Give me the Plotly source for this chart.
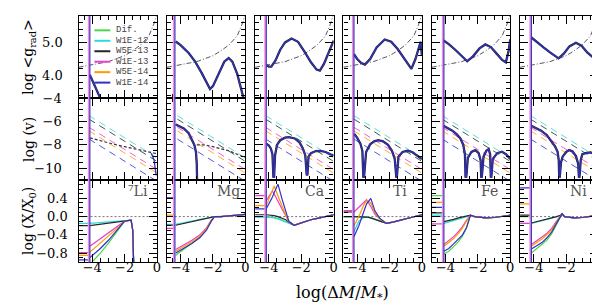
import plotly.graph_objects as go

# ---------------- data ----------------
ELEMENTS = ["\u2077Li", "Mg", "Ca", "Ti", "Fe", "Ni"]
MODELS = ["Dif.", "W1E-12", "W5E-13", "W1E-13", "W5E-14", "W1E-14"]
COLORS = ["#4cd64c", "#2fd9d9", "#262626", "#e83fc8", "#ff9a00", "#3030c8"]

X_RANGE = [-4.85, 0.0]
X_TICKS = [-4, -2, 0]
X_TICKTEXT = ["\u22124", "\u22122", "0"]
GRAD_RANGE = [3.32, 5.8]
GRAD_TICKS = [4.0, 5.0]
GRAD_TICKTEXT = ["4.0", "5.0"]
V_RANGE = [-11.0, -4.0]
V_TICKS = [-4, -6, -8, -10]
V_TICKTEXT = ["\u22124", "\u22126", "\u22128", "\u221210"]
AB_RANGE = [-1.0, 0.8]
AB_TICKS = [0.4, 0.0, -0.4, -0.8]
AB_TICKTEXT = ["0.4", "0.0", "\u22120.4", "\u22120.8"]

# bottom of the surface convection zone (vertical lines)
CZ_EDGE = [-4.15, -4.35, -4.16, -4.2, -4.1, -4.15]

# gravity (dash-dot curve, top row)
GRAV_X = [-4.85, -4.0, -3.0, -2.0, -1.5, -1.0, -0.5, -0.2, 0.0]
GRAV_Y = [4.25, 4.32, 4.42, 4.6, 4.75, 4.93, 5.2, 5.55, 5.85]

# radiative accelerations (top row)
LI_GRAD_X = [-4.15, -3.9, -3.68, -3.4]
LI_GRAD_Y = [4.02, 3.77, 3.52, 3.2]
MG_GRAD_X = [-4.3, -4.0, -3.5, -3.1, -2.7, -2.4, -2.18, -2.0, -1.6, -1.3, -1.03, -0.8, -0.5, -0.3, -0.1]
MG_GRAD_Y = [5.03, 4.92, 4.68, 4.42, 4.08, 3.78, 3.59, 3.68, 4.12, 4.42, 4.53, 4.42, 4.05, 3.7, 3.3]
CA_GRAD_X = [-4.16, -4.0, -3.85, -3.6, -3.3, -3.0, -2.6, -2.2, -1.8, -1.4, -1.05, -0.85, -0.6, -0.3, 0.0]
CA_GRAD_Y = [4.32, 4.27, 4.27, 4.45, 4.78, 5.0, 5.12, 5.02, 4.72, 4.4, 4.18, 4.15, 4.35, 4.72, 5.05]
TI_GRAD_X = [-4.2, -4.0, -3.75, -3.52, -3.2, -2.8, -2.3, -1.9, -1.5, -1.1, -0.65, -0.4, -0.08, 0.0]
TI_GRAD_Y = [4.65, 4.5, 4.38, 4.33, 4.5, 4.85, 5.09, 5.02, 4.8, 4.5, 4.2, 4.5, 5.02, 4.6]
FE_GRAD_X = [-4.12, -3.8, -3.4, -3.0, -2.66, -2.3, -1.9, -1.54, -1.2, -0.8, -0.5, -0.27, -0.1, 0.0]
FE_GRAD_Y = [5.06, 4.95, 4.78, 4.58, 4.43, 4.58, 4.82, 4.94, 4.86, 4.64, 4.47, 4.4, 4.75, 5.09]
NI_GRAD_X = [-4.15, -3.8, -3.4, -3.0, -2.47, -2.15, -1.8, -1.4, -1.05, -0.7, -0.28, -0.1, -0.03, 0.0]
NI_GRAD_Y = [5.15, 5.0, 4.85, 4.7, 4.52, 4.66, 4.88, 4.99, 4.9, 4.7, 4.52, 4.85, 5.04, 4.8]

# wind velocities (dashed, middle row); Dif. has no wind
WIND_X = [-4.2, 0.0]
WIND_Y = [None, [-5.5, -9.1], [-5.8, -9.4], [-6.5, -10.1], [-6.8, -10.4], [-7.5, -11.1]]

# diffusion velocities (middle row)
LI_V_X = [-4.15, -3.5, -3.0, -2.5, -2.0, -1.5, -1.0, -0.5, -0.2, 0.0]
LI_V_Y = [-7.4, -7.65, -7.85, -8.0, -8.15, -8.3, -8.45, -8.6, -8.7, -8.75]
LI_VT_X = [-0.35, -0.18, -0.05]
LI_VT_Y = [-8.7, -9.3, -10.6]
MG_V_X = [-4.3, -4.13, -3.8, -3.5, -3.3, -3.15, -3.05, -3.0, -2.98]
MG_V_Y = [-6.25, -6.36, -6.6, -7.0, -7.5, -8.0, -8.6, -9.6, -11.0]
MG_VD_X = [-3.0, -2.5, -2.0, -1.5, -1.0, -0.5, 0.0]
MG_VD_Y = [-8.0, -8.0, -8.15, -8.3, -8.5, -8.8, -9.1]
CA_V_X = [-4.16, -4.0, -3.88, -3.78, -3.72, None, -3.68, -3.62, -3.5, -3.3, -3.0, -2.76, -2.4, -2.1, -1.9, -1.75, -1.66,
          None, -1.62, -1.55, -1.4, -1.1, -0.8, -0.5, -0.2, 0.0]
CA_V_Y = [-7.9, -8.05, -8.3, -8.8, -10.8, None, -10.8, -8.9, -8.0, -7.6, -7.38, -7.33, -7.45, -7.8, -8.3, -8.9, -10.6,
          None, -10.6, -9.0, -8.7, -8.52, -8.5, -8.6, -8.8, -8.9]
TI_V_X = [-4.18, -4.0, -3.8, -3.68, -3.62, None, -3.58, -3.45, -3.2, -2.95, -2.7, -2.4, -2.1, -1.85, -1.68, -1.58,
          None, -1.55, -1.45, -1.2, -0.9, -0.6, -0.3, 0.0]
TI_V_Y = [-7.06, -7.4, -7.9, -8.5, -10.8, None, -10.8, -8.6, -7.95, -7.7, -7.6, -7.7, -8.0, -8.5, -9.2, -10.8,
          None, -10.8, -9.0, -8.6, -8.5, -8.6, -8.9, -9.2]
FE_V_X = [-4.13, -3.85, -3.58, -3.3, -3.07, -2.9, -2.8, -2.76, None, -2.72, -2.62, -2.4, -2.15, -1.95, -1.83, -1.79,
          None, -1.76, -1.65, -1.48, -1.33, -1.24, -1.2, None, -1.17, -1.08, -0.8, -0.51, -0.25, 0.0]
FE_V_Y = [-6.36, -6.55, -6.78, -7.1, -7.47, -8.0, -8.8, -10.8, None, -10.8, -9.1, -8.6, -8.44, -8.7, -9.3, -10.8,
          None, -10.8, -9.0, -8.5, -8.36, -8.8, -10.8, None, -10.8, -9.2, -8.7, -8.58, -8.8, -9.2]
NI_V_X = [-4.16, -3.85, -3.55, -3.2, -2.94, -2.7, -2.53, -2.46, -2.43, None, -2.4, -2.32, -2.22, -2.0, -1.81, -1.6,
          -1.4, -1.26, -1.21, None, -1.18, -1.1, -1.0, -0.75, -0.48, -0.2, 0.0]
NI_V_Y = [-6.36, -6.55, -6.78, -7.15, -7.61, -8.1, -8.58, -9.3, -10.8, None, -10.8, -9.5, -9.0, -8.6, -8.44, -8.55,
          -8.95, -9.6, -10.8, None, -10.8, -9.3, -8.78, -8.68, -8.64, -8.8, -9.06]

# abundances (bottom row); one row per model in MODELS order
LI_CZ = [-1.1, -0.15, -0.2, -0.79, -0.85, -0.95]
LI_AB_X = [-4.15, -3.5, -3.0, -2.5, -2.0, -1.6, -1.5, -1.42]
LI_AB = [
    [-1.05, -0.8, -0.58, -0.35, -0.1, -0.08, -0.3, -1.3],
    [-0.15, -0.13, -0.12, -0.1, -0.09, -0.08, -0.3, -1.3],
    [-0.2, -0.17, -0.14, -0.11, -0.09, -0.08, -0.3, -1.3],
    [-0.65, -0.48, -0.35, -0.22, -0.1, -0.08, -0.3, -1.3],
    [-0.78, -0.58, -0.43, -0.27, -0.1, -0.08, -0.3, -1.3],
    [-0.9, -0.7, -0.52, -0.32, -0.1, -0.08, -0.3, -1.3],
]
MG_CZ = [0.41, -0.17, -0.19, -0.26, 0.03, 0.41]
MG_AB_X = [-4.3, -3.8, -3.3, -2.8, -2.4, -2.1, -1.9, -1.5, -1.0, -0.5, 0.0]
MG_AB = [
    [-0.85, -0.72, -0.6, -0.45, -0.25, -0.08, 0.0, 0.0, 0.01, 0.03, 0.05],
    [-0.17, -0.14, -0.1, -0.06, -0.03, 0.0, 0.0, 0.0, 0.01, 0.03, 0.05],
    [-0.19, -0.15, -0.11, -0.07, -0.04, -0.01, 0.0, 0.0, 0.01, 0.03, 0.05],
    [-0.72, -0.62, -0.52, -0.4, -0.25, -0.08, 0.0, 0.0, 0.01, 0.03, 0.05],
    [-0.76, -0.66, -0.55, -0.43, -0.27, -0.09, 0.0, 0.0, 0.01, 0.03, 0.05],
    [-0.8, -0.7, -0.59, -0.46, -0.3, -0.1, 0.0, 0.0, 0.01, 0.03, 0.05],
]
CA_CZ = [0.0, -0.01, 0.04, 0.46, 0.24, 0.17]
CA_AB_X = [-4.16, -3.9, -3.78, -3.68, -3.44, -3.2, -2.96, -2.76, -2.44, -2.2, -1.8, -1.4, -1.0, -0.5, 0.0]
CA_AB = [
    [0.0, -0.01, -0.01, -0.02, -0.04, -0.07, -0.1, -0.14, -0.19, -0.16, -0.11, -0.07, -0.04, 0.0, 0.04],
    [-0.01, -0.02, -0.02, -0.03, -0.05, -0.08, -0.11, -0.15, -0.19, -0.16, -0.11, -0.07, -0.04, 0.0, 0.04],
    [0.04, 0.03, 0.03, 0.02, 0.0, -0.03, -0.07, -0.12, -0.19, -0.16, -0.11, -0.07, -0.04, 0.0, 0.04],
    [0.35, 0.5, 0.56, 0.5, 0.32, 0.17, 0.02, -0.1, -0.19, -0.16, -0.11, -0.07, -0.04, 0.0, 0.04],
    [0.24, 0.45, 0.58, 0.67, 0.45, 0.22, 0.03, -0.11, -0.19, -0.16, -0.11, -0.07, -0.04, 0.0, 0.04],
    [0.17, 0.33, 0.43, 0.52, 0.71, 0.4, 0.12, -0.11, -0.19, -0.16, -0.11, -0.07, -0.04, 0.0, 0.04],
]
TI_CZ = [0.0, 0.0, 0.0, 0.13, 0.1, 0.1]
TI_AB_X = [-4.2, -3.9, -3.6, -3.42, -3.16, -2.9, -2.6, -2.19, -1.8, -1.2, -0.6, 0.0]
TI_AB = [
    [0.0, 0.0, 0.0, -0.01, -0.03, -0.06, -0.1, -0.15, -0.12, -0.07, -0.02, 0.04],
    [-0.33, -0.1, -0.02, -0.01, -0.03, -0.06, -0.1, -0.15, -0.12, -0.07, -0.02, 0.04],
    [0.0, 0.0, 0.0, -0.01, -0.03, -0.06, -0.1, -0.15, -0.12, -0.07, -0.02, 0.04],
    [0.1, 0.2, 0.32, 0.37, 0.22, 0.05, -0.05, -0.15, -0.12, -0.07, -0.02, 0.04],
    [-0.2, 0.0, 0.25, 0.35, 0.3, 0.08, -0.05, -0.15, -0.12, -0.07, -0.02, 0.04],
    [-0.44, -0.2, 0.1, 0.28, 0.4, 0.12, -0.04, -0.15, -0.12, -0.07, -0.02, 0.04],
]
FE_CZ = [0.46, 0.03, 0.08, -0.16, 0.31, 0.2]
FE_AB_X = [-4.1, -3.8, -3.5, -3.2, -2.95, -2.7, -2.46, -2.2, -1.8, -1.5, -1.0, -0.5, 0.0]
FE_AB = [
    [-0.82, -0.76, -0.66, -0.55, -0.43, -0.25, 0.03, 0.0, -0.02, -0.03, -0.02, 0.0, 0.03],
    [-0.15, -0.12, -0.09, -0.06, -0.03, 0.0, 0.02, 0.0, -0.02, -0.03, -0.02, 0.0, 0.03],
    [-0.11, -0.09, -0.06, -0.03, -0.01, 0.01, 0.03, 0.0, -0.02, -0.03, -0.02, 0.0, 0.03],
    [-0.61, -0.53, -0.44, -0.33, -0.22, -0.08, 0.02, 0.0, -0.02, -0.03, -0.02, 0.0, 0.03],
    [-0.65, -0.57, -0.48, -0.37, -0.25, -0.1, 0.02, 0.0, -0.02, -0.03, -0.02, 0.0, 0.03],
    [-0.76, -0.7, -0.6, -0.5, -0.4, -0.24, 0.03, 0.0, -0.02, -0.03, -0.02, 0.0, 0.03],
]
NI_CZ = [0.0, -0.15, 0.03, -0.15, 0.28, 0.63]
NI_AB_X = [-4.15, -3.8, -3.5, -3.2, -2.9, -2.6, -2.35, -2.25, -2.1, -1.5, -1.0, -0.5, 0.0]
NI_AB = [
    [-0.8, -0.7, -0.62, -0.52, -0.38, -0.18, 0.02, 0.06, 0.0, -0.03, -0.02, 0.0, 0.03],
    [-0.15, -0.12, -0.1, -0.07, -0.04, -0.01, 0.03, 0.06, 0.0, -0.03, -0.02, 0.0, 0.03],
    [-0.14, -0.11, -0.09, -0.06, -0.03, 0.0, 0.03, 0.06, 0.0, -0.03, -0.02, 0.0, 0.03],
    [-0.61, -0.53, -0.45, -0.37, -0.26, -0.1, 0.03, 0.06, 0.0, -0.03, -0.02, 0.0, 0.03],
    [-0.65, -0.57, -0.49, -0.4, -0.29, -0.12, 0.03, 0.06, 0.0, -0.03, -0.02, 0.0, 0.03],
    [-0.71, -0.64, -0.57, -0.47, -0.34, -0.15, 0.02, 0.06, 0.0, -0.03, -0.02, 0.0, 0.03],
]

GRAD_DATA = [(LI_GRAD_X, LI_GRAD_Y), (MG_GRAD_X, MG_GRAD_Y), (CA_GRAD_X, CA_GRAD_Y),
             (TI_GRAD_X, TI_GRAD_Y), (FE_GRAD_X, FE_GRAD_Y), (NI_GRAD_X, NI_GRAD_Y)]
V_DATA = [None, (MG_V_X, MG_V_Y), (CA_V_X, CA_V_Y), (TI_V_X, TI_V_Y), (FE_V_X, FE_V_Y), (NI_V_X, NI_V_Y)]
AB_DATA = [(LI_CZ, LI_AB_X, LI_AB), (MG_CZ, MG_AB_X, MG_AB), (CA_CZ, CA_AB_X, CA_AB),
           (TI_CZ, TI_AB_X, TI_AB), (FE_CZ, FE_AB_X, FE_AB), (NI_CZ, NI_AB_X, NI_AB)]

# ---------------- layout geometry (pixels) ----------------
W, H = 600, 304
LEFT0, STEP, PW = 71.0, 88.9, 79.0
ROW_TOP, PH = [1.0, 85.0, 169.0], 84.0
ROW_STANDOFF = [12, 13, 7]
TICKFONT = dict(family="DejaVu Serif", size=13, color="black")


def names(k):
    return ("x" if k == 1 else f"x{k}", "y" if k == 1 else f"y{k}")


fig = go.Figure()
layout = dict(width=W, height=H, margin=dict(l=0, r=0, t=0, b=0),
              paper_bgcolor="white", plot_bgcolor="white", showlegend=False)

row_cfg = [
    (GRAD_RANGE, GRAD_TICKS, GRAD_TICKTEXT, 0.2),
    (V_RANGE, V_TICKS, V_TICKTEXT, 0.5),
    (AB_RANGE, AB_TICKS, AB_TICKTEXT, 0.1),
]

shapes, annotations = [], []
for r in range(3):
    for c in range(6):
        k = r * 6 + c + 1
        xn, yn = names(k)
        x0 = (LEFT0 + STEP * c) / W
        x1 = (LEFT0 + STEP * c + PW) / W
        y1 = 1 - ROW_TOP[r] / H
        y0 = 1 - (ROW_TOP[r] + PH) / H
        yr, yt, ytt, ymin = row_cfg[r]
        common = dict(showgrid=False, zeroline=False, showline=True, linecolor="black", linewidth=1.3,
                      mirror="allticks", ticks="inside", ticklen=8, tickwidth=1.3, tickcolor="black",
                      tickfont=TICKFONT)
        xa = dict(common, domain=[x0, x1], anchor=yn, range=X_RANGE, tickmode="array",
                  tickvals=X_TICKS, ticktext=X_TICKTEXT, showticklabels=(r == 2),
                  minor=dict(tickmode="linear", tick0=0, dtick=0.5, ticklen=4, ticks="inside",
                             tickcolor="black", tickwidth=1.1))
        if r == 2:
            xa["ticklabelstandoff"] = -7
        ya = dict(common, domain=[y0, y1], anchor=xn, range=yr, tickmode="array",
                  tickvals=yt, ticktext=ytt, showticklabels=(c == 0),
                  minor=dict(tickmode="linear", tick0=0, dtick=ymin, ticklen=4, ticks="inside",
                             tickcolor="black", tickwidth=1.1))
        if c == 0:
            ya["ticklabelstandoff"] = ROW_STANDOFF[r]
        layout["xaxis" if k == 1 else f"xaxis{k}"] = xa
        layout["yaxis" if k == 1 else f"yaxis{k}"] = ya

        # vertical lines at the bottom of the convection zone
        edge = CZ_EDGE[c]
        shapes.append(dict(type="line", xref=xn, yref=f"{yn} domain", x0=edge - 0.07, x1=edge - 0.07,
                           y0=0, y1=1, line=dict(color="#f58ad8", width=1.8)))
        shapes.append(dict(type="line", xref=xn, yref=f"{yn} domain", x0=edge, x1=edge,
                           y0=0, y1=1, line=dict(color="#3a3ac4", width=1.2)))

        if r == 0:
            fig.add_trace(go.Scatter(x=GRAV_X, y=GRAV_Y, mode="lines", xaxis=xn, yaxis=yn,
                                     line=dict(color="#555566", width=1, dash="5px,2px,1px,2px")))
            gx, gy = GRAD_DATA[c]
            fig.add_trace(go.Scatter(x=gx, y=gy, mode="lines", xaxis=xn, yaxis=yn,
                                     line=dict(color=COLORS[2], width=2.3)))
            fig.add_trace(go.Scatter(x=gx, y=gy, mode="lines", xaxis=xn, yaxis=yn,
                                     line=dict(color=COLORS[5], width=1.3)))
        elif r == 1:
            for m in range(1, 6):
                fig.add_trace(go.Scatter(x=WIND_X, y=WIND_Y[m], mode="lines", xaxis=xn, yaxis=yn,
                                         line=dict(color=COLORS[m], width=1, dash="7px,5px"), opacity=0.8))
            if c == 0:
                fig.add_trace(go.Scatter(x=LI_V_X, y=LI_V_Y, mode="lines", xaxis=xn, yaxis=yn,
                                         line=dict(color="#333344", width=1.2, dash="3px,2px")))
                fig.add_trace(go.Scatter(x=LI_VT_X, y=LI_VT_Y, mode="lines", xaxis=xn, yaxis=yn,
                                         line=dict(color=COLORS[5], width=1.3)))
            else:
                if c == 1:
                    fig.add_trace(go.Scatter(x=MG_VD_X, y=MG_VD_Y, mode="lines", xaxis=xn, yaxis=yn,
                                             line=dict(color="#333344", width=1.2, dash="3px,2px")))
                vx, vy = V_DATA[c]
                fig.add_trace(go.Scatter(x=vx, y=vy, mode="lines", xaxis=xn, yaxis=yn, connectgaps=False,
                                         line=dict(color=COLORS[2], width=2.3)))
                fig.add_trace(go.Scatter(x=vx, y=vy, mode="lines", xaxis=xn, yaxis=yn, connectgaps=False,
                                         line=dict(color=COLORS[5], width=1.3)))
        else:
            fig.add_trace(go.Scatter(x=X_RANGE, y=[0, 0], mode="lines", xaxis=xn, yaxis=yn,
                                     line=dict(color="#777777", width=1, dash="2px,2px")))
            cz, ax_, ab = AB_DATA[c]
            for m in range(6):
                fig.add_trace(go.Scatter(x=[X_RANGE[0], edge], y=[cz[m], cz[m]], mode="lines",
                                         xaxis=xn, yaxis=yn, line=dict(color=COLORS[m], width=1.2)))
                fig.add_trace(go.Scatter(x=ax_, y=ab[m], mode="lines", xaxis=xn, yaxis=yn,
                                         line=dict(color=COLORS[m], width=1.2)))
            annotations.append(dict(text=ELEMENTS[c], xref=xn, yref=yn, x=-1.9, y=0.565,
                                    xanchor="left", yanchor="middle", showarrow=False,
                                    font=dict(family="DejaVu Serif", size=14, color="#555555")))

# manual legend in the first panel
for i, (name, col) in enumerate(zip(MODELS, COLORS)):
    yy = 1 - (15.7 + 10.7 * i) / H
    shapes.append(dict(type="line", xref="paper", yref="paper", x0=87 / W, x1=103 / W, y0=yy, y1=yy,
                       line=dict(color=col, width=2)))
    annotations.append(dict(text=name, xref="paper", yref="paper", x=107 / W, y=yy, xanchor="left",
                            yanchor="middle", showarrow=False,
                            font=dict(family="Liberation Mono", size=9, color="#444444")))

# axis titles
TITLE_FONT = dict(family="DejaVu Serif", size=14, color="black")
for txt, yc in [("log &lt;g<sub>rad</sub>&gt;", 43), ("log (v)", 127), ("log (X/X<sub>0</sub>)", 211)]:
    annotations.append(dict(text=txt, xref="paper", yref="paper", x=21 / W, y=1 - yc / H, textangle=-90,
                            xanchor="center", yanchor="middle", showarrow=False, font=TITLE_FONT))
annotations.append(dict(text="log(\u0394<i>M</i>/<i>M</i><sub>*</sub>)", xref="paper", yref="paper",
                        x=337 / W, y=1 - 285 / H, xanchor="center", yanchor="middle", showarrow=False,
                        font=dict(family="DejaVu Serif", size=16, color="black")))

layout["shapes"] = shapes
layout["annotations"] = annotations
fig.update_layout(**layout)
fig.write_html("out.html")
